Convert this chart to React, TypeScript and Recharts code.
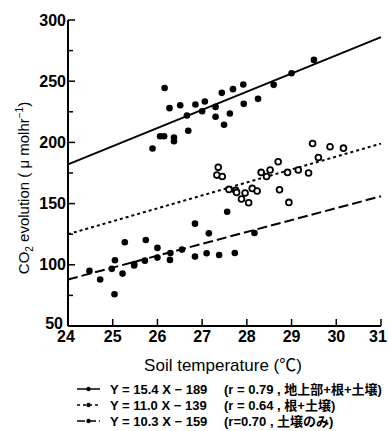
import React from 'react';
import { ScatterChart, Scatter, XAxis, YAxis } from 'recharts';

// soil temperature (°C) vs CO2 evolution
const xTicks = [24, 25, 26, 27, 28, 29, 30, 31];
const yTicks = [50, 75, 100, 125, 150, 175, 200, 225, 250, 275, 300];

// above-ground + roots + soil
const wholePts: [number, number][] = [
  [25.89, 195], [26.06, 205], [26.15, 205], [26.16, 244.5], [26.27, 228], [26.37, 204],
  [26.37, 201], [26.51, 230.4], [26.66, 222], [26.69, 209.5], [26.85, 231], [27.0, 225.5],
  [27.06, 233.4], [27.3, 229], [27.3, 221], [27.44, 240.5], [27.49, 214.4], [27.62, 223.6],
  [27.69, 243.5], [27.92, 247.3], [27.93, 231.5], [28.25, 235.6], [28.6, 247], [29.0, 256.5],
  [29.5, 267.4],
];

// roots + soil
const rootPts: [number, number][] = [
  [27.36, 179.6], [27.33, 173.3], [27.45, 172.2], [27.6, 161.6], [27.75, 160.8], [27.77, 159.1],
  [27.88, 153.7], [27.96, 158.6], [28.04, 150.7], [28.12, 162.4], [28.23, 160.3], [28.32, 175.5],
  [28.44, 172.2], [28.52, 177.4], [28.7, 184.2], [28.73, 161.3], [28.91, 175.5], [28.94, 151],
  [29.15, 177.4], [29.38, 175], [29.47, 199.1], [29.6, 187.7], [29.86, 196.4], [30.16, 195.3],
];

// soil only
const soilPts: [number, number][] = [
  [24.48, 95], [24.72, 88], [24.98, 96.7], [25.05, 103.7], [25.04, 76], [25.22, 92.8],
  [25.27, 118.4], [25.48, 100.7], [25.48, 99.4], [25.72, 103.4], [25.74, 120.3], [26.0, 105.9],
  [26.0, 113.8], [26.28, 104], [26.29, 109.7], [26.55, 112.4], [26.84, 106.7], [26.84, 133.6],
  [27.1, 109.4], [27.15, 125.7], [27.38, 108], [27.56, 143.4], [27.73, 109.7], [28.17, 126],
];

// regression lines, read at the axis ends
const wholeFit: [number, number][] = [[24, 182], [31, 286]];
const rootFit: [number, number][] = [[24, 125], [31, 199]];
const soilFit: [number, number][] = [[24, 88], [31, 156]];

const legendEq = ['Y = 15.4 X − 189', 'Y = 11.0 X − 139', 'Y = 10.3 X − 159'];
const legendNote = ['(r = 0.79 , 地上部+根+土壌)', '(r = 0.64 , 根+土壌)', '(r=0.70 , 土壌のみ)'];
const legendDash = ['', '3 3', '8 3'];

const W = 388;
const H = 431;
const LEFT = 68;
const TOP = 20;
const RIGHT = 381;
const BOTTOM = 326;
const FONT = '"Liberation Sans", Arial, "Noto Sans CJK JP", sans-serif';

const toObj = (arr: [number, number][]) => arr.map(([x, y]) => ({ x, y }));

const BottomTick = (props: any) => {
  const { x, payload } = props;
  // end labels are nudged inwards as in the original print
  const shift = payload.value === 24 ? -2 : payload.value === 31 ? -3 : 0;
  return (
    <g>
      <line x1={x} x2={x} y1={BOTTOM} y2={BOTTOM - 7} stroke="#000" strokeWidth={1.5} />
      <text x={x + shift} y={BOTTOM + 15.5} textAnchor="middle" fontSize={16} fontWeight="bold"
        fontFamily={FONT} fill="#000">
        {payload.value}
      </text>
    </g>
  );
};

const TopTick = (props: any) => {
  const { x } = props;
  return <line x1={x} x2={x} y1={TOP} y2={TOP + 7} stroke="#000" strokeWidth={1.5} />;
};

const LeftTick = (props: any) => {
  const { y, payload } = props;
  const major = payload.value % 50 === 0;
  const last = payload.value === 50;
  return (
    <g>
      <line x1={LEFT} x2={LEFT + (major ? 7 : 5)} y1={y} y2={y} stroke="#000" strokeWidth={1.5} />
      {major && (
        <text x={last ? 63 : 66} y={last ? y + 3 : y + 5.5} textAnchor="end" fontSize={16} fontWeight="bold"
          fontFamily={FONT} fill="#000">
          {payload.value}
        </text>
      )}
    </g>
  );
};

const RightTick = (props: any) => {
  const { y, payload } = props;
  const major = payload.value % 50 === 0;
  return <line x1={RIGHT} x2={RIGHT - (major ? 7 : 5)} y1={y} y2={y} stroke="#000" strokeWidth={1.5} />;
};

const Dot = (p: any) => <circle cx={p.cx} cy={p.cy} r={3.3} fill="#000" />;
const Ring = (p: any) => <circle cx={p.cx} cy={p.cy} r={2.9} fill="#fff" stroke="#000" strokeWidth={1.8} />;
const NoShape = () => <g />;

export default function App() {
  return (
    <div style={{ position: 'absolute', left: 0, top: 0, width: W, height: H, background: '#fff' }}>
      <ScatterChart width={W} height={H} margin={{ top: TOP, right: W - RIGHT, bottom: 75, left: 0 }}>
        <XAxis
          xAxisId="b"
          type="number"
          dataKey="x"
          domain={[24, 31]}
          ticks={xTicks}
          height={30}
          axisLine={{ stroke: '#000', strokeWidth: 2 }}
          tickLine={false}
          tick={<BottomTick />}
          interval={0}
        />
        <XAxis
          xAxisId="t"
          orientation="top"
          type="number"
          dataKey="x"
          domain={[24, 31]}
          ticks={xTicks}
          height={0}
          axisLine={{ stroke: '#000', strokeWidth: 2 }}
          tickLine={false}
          tick={<TopTick />}
          interval={0}
        />
        <YAxis
          yAxisId="l"
          type="number"
          dataKey="y"
          domain={[50, 300]}
          ticks={yTicks}
          width={LEFT}
          axisLine={{ stroke: '#000', strokeWidth: 2 }}
          tickLine={false}
          tick={<LeftTick />}
          interval={0}
        />
        <YAxis
          yAxisId="r"
          orientation="right"
          type="number"
          dataKey="y"
          domain={[50, 300]}
          ticks={yTicks}
          width={0}
          axisLine={{ stroke: '#000', strokeWidth: 2 }}
          tickLine={false}
          tick={<RightTick />}
          interval={0}
        />
        <Scatter xAxisId="t" yAxisId="r" data={toObj(wholeFit)} shape={<NoShape />}
          line={{ stroke: '#000', strokeWidth: 2 }} isAnimationActive={false} />
        <Scatter xAxisId="t" yAxisId="r" data={toObj(rootFit)} shape={<NoShape />}
          line={{ stroke: '#000', strokeWidth: 2, strokeDasharray: '3 3' }} isAnimationActive={false} />
        <Scatter xAxisId="t" yAxisId="r" data={toObj(soilFit)} shape={<NoShape />}
          line={{ stroke: '#000', strokeWidth: 2, strokeDasharray: '10 4' }} isAnimationActive={false} />
        <Scatter xAxisId="b" yAxisId="l" data={toObj(wholePts)} shape={<Dot />} isAnimationActive={false} />
        <Scatter xAxisId="b" yAxisId="l" data={toObj(rootPts)} shape={<Ring />} isAnimationActive={false} />
        <Scatter xAxisId="b" yAxisId="l" data={toObj(soilPts)} shape={<Dot />} isAnimationActive={false} />
      </ScatterChart>
      <svg width={W} height={H} style={{ position: 'absolute', left: 0, top: 0, pointerEvents: 'none' }}>
        <text transform="rotate(-90)" x={-188} y={29} textAnchor="middle" fontSize={15} fontFamily={FONT} fill="#000">
          CO<tspan dy={4} fontSize={10}>2</tspan>
          <tspan dy={-4}> evolution ( μ molhr</tspan>
          <tspan dy={-6} fontSize={10}>−1</tspan>
          <tspan dy={6}>)</tspan>
        </text>
        <text x={223} y={371} textAnchor="middle" fontSize={17} fontFamily={FONT} fill="#000">
          Soil temperature (℃)
        </text>
        {legendEq.map((eq, i) => {
          const cy = 389 + i * 16;
          return (
            <g key={eq}>
              <line x1={77} x2={100} y1={cy} y2={cy} stroke="#000" strokeWidth={1.5}
                strokeDasharray={legendDash[i] || undefined} />
              <circle cx={88.5} cy={cy} r={2.2} fill="#000" />
              <text x={110} y={cy + 4.5} fontSize={13} fontWeight="bold" fontFamily={FONT} fill="#000">{eq}</text>
              <text x={224} y={cy + 4.5} fontSize={13} fontWeight="bold" fontFamily={FONT} fill="#000">{legendNote[i]}</text>
            </g>
          );
        })}
      </svg>
    </div>
  );
}
